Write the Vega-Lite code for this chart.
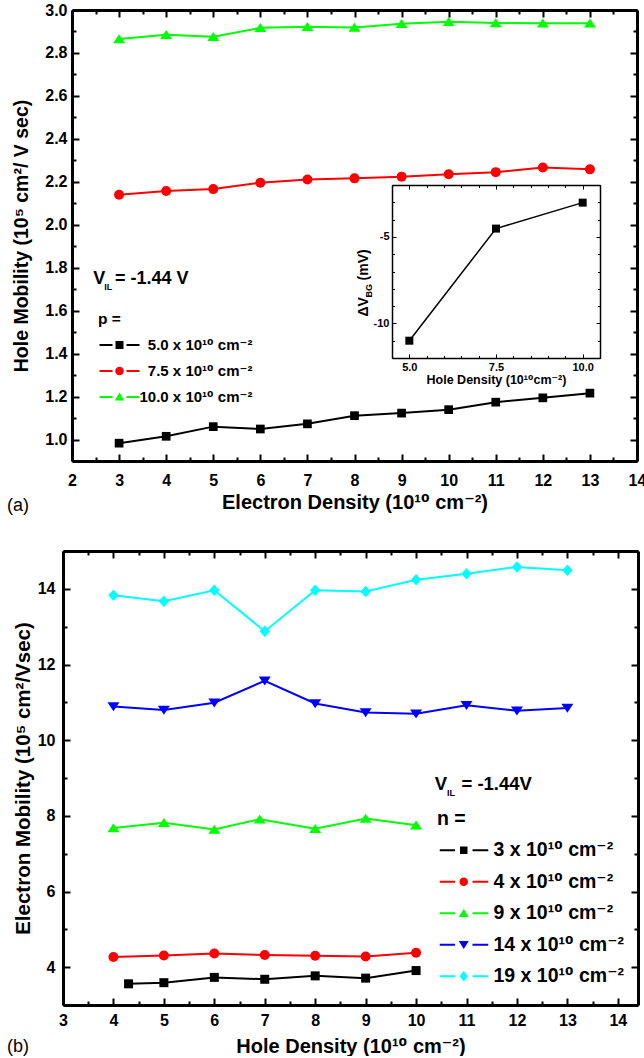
{
 "$schema": "https://vega.github.io/schema/vega-lite/v6.json",
 "background": "white",
 "padding": {"left": 7, "top": 2, "right": 0, "bottom": 0},
 "config": {
  "font": "Liberation Sans, DejaVu Sans",
  "view": {"stroke": null},
  "text": {"font": "Liberation Sans, DejaVu Sans"},
  "axis": {"grid": false, "domainColor": "black", "tickColor": "black", "labelColor": "black", "titleColor": "black", "labelFontWeight": "bold", "titleFontWeight": "bold", "labelOverlap": false, "labelFlush": false, "labelBound": false, "labelFont": "Liberation Sans, DejaVu Sans", "titleFont": "Liberation Sans, DejaVu Sans"},
  "legend": {"labelColor": "black", "titleColor": "black", "labelFontWeight": "bold", "titleFontWeight": "bold", "padding": 0, "symbolStrokeWidth": 0, "symbolOpacity": 1, "labelFont": "Liberation Sans, DejaVu Sans", "titleFont": "Liberation Sans, DejaVu Sans", "labelLimit": 300},
  "title": {"color": "black", "fontWeight": "normal", "font": "Liberation Sans, DejaVu Sans"}
 },
 "datasets": {
  "hole": [
   {"n":3,"mu":0.983,"p":"5.0"},{"n":4,"mu":1.015,"p":"5.0"},{"n":5,"mu":1.060,"p":"5.0"},{"n":6,"mu":1.049,"p":"5.0"},{"n":7,"mu":1.073,"p":"5.0"},{"n":8,"mu":1.111,"p":"5.0"},{"n":9,"mu":1.123,"p":"5.0"},{"n":10,"mu":1.139,"p":"5.0"},{"n":11,"mu":1.174,"p":"5.0"},{"n":12,"mu":1.194,"p":"5.0"},{"n":13,"mu":1.216,"p":"5.0"},
   {"n":3,"mu":2.140,"p":"7.5"},{"n":4,"mu":2.157,"p":"7.5"},{"n":5,"mu":2.166,"p":"7.5"},{"n":6,"mu":2.196,"p":"7.5"},{"n":7,"mu":2.211,"p":"7.5"},{"n":8,"mu":2.216,"p":"7.5"},{"n":9,"mu":2.224,"p":"7.5"},{"n":10,"mu":2.235,"p":"7.5"},{"n":11,"mu":2.245,"p":"7.5"},{"n":12,"mu":2.267,"p":"7.5"},{"n":13,"mu":2.258,"p":"7.5"},
   {"n":3,"mu":2.865,"p":"10.0"},{"n":4,"mu":2.885,"p":"10.0"},{"n":5,"mu":2.875,"p":"10.0"},{"n":6,"mu":2.917,"p":"10.0"},{"n":7,"mu":2.922,"p":"10.0"},{"n":8,"mu":2.919,"p":"10.0"},{"n":9,"mu":2.936,"p":"10.0"},{"n":10,"mu":2.945,"p":"10.0"},{"n":11,"mu":2.940,"p":"10.0"},{"n":12,"mu":2.938,"p":"10.0"},{"n":13,"mu":2.938,"p":"10.0"}
  ],
  "inset": [{"h":5.0,"dv":-11.0},{"h":7.5,"dv":-4.52},{"h":10.0,"dv":-3.02}],
  "elec": [
   {"h":4.3,"mu":3.56,"n":"3"},{"h":5,"mu":3.59,"n":"3"},{"h":6,"mu":3.73,"n":"3"},{"h":7,"mu":3.68,"n":"3"},{"h":8,"mu":3.77,"n":"3"},{"h":9,"mu":3.71,"n":"3"},{"h":10,"mu":3.91,"n":"3"},
   {"h":4,"mu":4.27,"n":"4"},{"h":5,"mu":4.31,"n":"4"},{"h":6,"mu":4.36,"n":"4"},{"h":7,"mu":4.32,"n":"4"},{"h":8,"mu":4.30,"n":"4"},{"h":9,"mu":4.28,"n":"4"},{"h":10,"mu":4.38,"n":"4"},
   {"h":4,"mu":7.68,"n":"9"},{"h":5,"mu":7.82,"n":"9"},{"h":6,"mu":7.64,"n":"9"},{"h":6.9,"mu":7.91,"n":"9"},{"h":8,"mu":7.66,"n":"9"},{"h":9,"mu":7.93,"n":"9"},{"h":10,"mu":7.75,"n":"9"},
   {"h":4,"mu":10.89,"n":"14"},{"h":5,"mu":10.80,"n":"14"},{"h":6,"mu":10.99,"n":"14"},{"h":7,"mu":11.57,"n":"14"},{"h":8,"mu":10.97,"n":"14"},{"h":9,"mu":10.73,"n":"14"},{"h":10,"mu":10.70,"n":"14"},{"h":11,"mu":10.92,"n":"14"},{"h":12,"mu":10.78,"n":"14"},{"h":13,"mu":10.85,"n":"14"},
   {"h":4,"mu":13.83,"n":"19"},{"h":5,"mu":13.67,"n":"19"},{"h":6,"mu":13.96,"n":"19"},{"h":7,"mu":12.88,"n":"19"},{"h":8,"mu":13.96,"n":"19"},{"h":9,"mu":13.93,"n":"19"},{"h":10,"mu":14.24,"n":"19"},{"h":11,"mu":14.40,"n":"19"},{"h":12,"mu":14.58,"n":"19"},{"h":13,"mu":14.49,"n":"19"}
  ]
 },
 "vconcat": [
  {
   "width": 574, "height": 451,
   "title": {"text": "(a)", "orient": "bottom", "anchor": "start", "frame": "group", "dx": -56, "offset": -15, "fontSize": 18, "fontWeight": "normal"},
   "layer": [
    {
     "data": {"name": "hole"},
     "layer": [
      {"transform": [{"filter": "datum.mu < 0"}],
       "mark": {"type": "point", "filled": true, "opacity": 1, "size": 100},
       "encoding": {
        "x": {"field": "n", "type": "quantitative", "scale": {"domain": [2, 14], "range": [9, 574], "nice": false, "zero": false}, "axis": null},
        "y": {"field": "mu", "type": "quantitative", "scale": {"domain": [0.9, 3.0], "nice": false, "zero": false}, "axis": null},
        "color": {"field": "p", "type": "nominal", "scale": {"domain": ["5.0","7.5","10.0"], "range": ["#000000","#ff0000","#00ff00"]},
                  "legend": {"title": "p =", "orient": "none", "legendX": 35, "legendY": 302, "symbolSize": 100, "labelAlign": "right", "labelOffset": 139.4, "labelFontSize": 15, "titleFontSize": 15.5, "rowPadding": 10, "titlePadding": 10, "labelExpr": "datum.label + ' x 10¹⁰ cm⁻²'"}},
        "shape": {"field": "p", "type": "nominal", "scale": {"domain": ["5.0","7.5","10.0"], "range": ["M-1.2,-0.2H1.4V0.2H-1.2Z M2,-0.8H3.6V0.8H2Z M4.2,-0.2H6.8V0.2H4.2Z", "M-1.2,-0.2H1.4V0.2H-1.2Z M1.95,0A0.85,0.85 0 1,0 3.65,0A0.85,0.85 0 1,0 1.95,0Z M4.2,-0.2H6.8V0.2H4.2Z", "M-1.2,-0.2H1.4V0.2H-1.2Z M2.8,-0.9L3.75,0.7H1.85Z M4.2,-0.2H6.8V0.2H4.2Z"]},
                  "legend": {"title": "p =", "orient": "none", "legendX": 35, "legendY": 302, "symbolSize": 100, "labelAlign": "right", "labelOffset": 139.4, "labelFontSize": 15, "titleFontSize": 15.5, "rowPadding": 10, "titlePadding": 10, "labelExpr": "datum.label + ' x 10¹⁰ cm⁻²'"}}}},
      {"mark": {"type": "line", "strokeWidth": 2}, "encoding": {
        "x": {"field": "n", "type": "quantitative",
              "axis": {"orient": "bottom", "values": [2,3,4,5,6,7,8,9,10,11,12,13,14], "format": "d", "tickSize": -7, "tickWidth": 2, "domainWidth": 3, "labelFontSize": 16, "labelPadding": 18, "title": "Electron Density (10¹⁰ cm⁻²)", "titleFontSize": 20, "titlePadding": 4}},
        "y": {"field": "mu", "type": "quantitative",
              "axis": {"orient": "left", "offset": -9, "values": [1.0,1.2,1.4,1.6,1.8,2.0,2.2,2.4,2.6,2.8,3.0], "format": ".1f", "tickSize": -7, "tickWidth": 2, "domainWidth": 3, "labelFontSize": 16, "labelPadding": 12, "title": "Hole Mobility (10⁵ cm²/ V sec)", "titleFontSize": 19.5, "titlePadding": 13}},
        "color": {"field": "p", "type": "nominal"}}},
      {"transform": [{"filter": "datum.p === '5.0'"}],
       "mark": {"type": "point", "shape": "M-0.87,-0.87H0.87V0.87H-0.87Z", "filled": true, "opacity": 1, "size": 100}, "encoding": {
        "x": {"field": "n", "type": "quantitative",
              "axis": {"orient": "top", "values": [2,3,4,5,6,7,8,9,10,11,12,13,14], "labels": false, "tickSize": -7, "tickWidth": 2, "domainWidth": 3, "title": null}},
        "y": {"field": "mu", "type": "quantitative",
              "axis": {"orient": "right", "values": [1.0,1.2,1.4,1.6,1.8,2.0,2.2,2.4,2.6,2.8,3.0], "labels": false, "tickSize": -7, "tickWidth": 2, "domainWidth": 3, "title": null}},
        "color": {"field": "p", "type": "nominal"}}},
      {"transform": [{"filter": "datum.p === '7.5'"}],
       "mark": {"type": "point", "shape": "circle", "filled": true, "opacity": 1, "size": 100}, "encoding": {
        "x": {"field": "n", "type": "quantitative", "axis": null},
        "y": {"field": "mu", "type": "quantitative", "axis": null},
        "color": {"field": "p", "type": "nominal"}}},
      {"transform": [{"filter": "datum.p === '10.0'"}],
       "mark": {"type": "point", "shape": "M0,-0.95L1.2,0.85H-1.2Z", "filled": true, "opacity": 1, "size": 100}, "encoding": {
        "x": {"field": "n", "type": "quantitative", "axis": null},
        "y": {"field": "mu", "type": "quantitative", "axis": null},
        "color": {"field": "p", "type": "nominal"}}},
      {"data": {"values": [{"s": "V"}]}, "mark": {"type": "text", "align": "left", "baseline": "alphabetic", "fontSize": 18, "fontWeight": "bold", "color": "black"},
       "encoding": {
        "x": {"datum": 2.45, "type": "quantitative", "axis": {"orient": "bottom", "values": [2.5,3.5,4.5,5.5,6.5,7.5,8.5,9.5,10.5,11.5,12.5,13.5], "labels": false, "domain": false, "tickSize": -4, "tickWidth": 2, "title": null}},
        "y": {"datum": 1.726, "type": "quantitative", "axis": {"orient": "left", "offset": -9, "values": [0.9,1.1,1.3,1.5,1.7,1.9,2.1,2.3,2.5,2.7,2.9], "labels": false, "domain": false, "tickSize": -4, "tickWidth": 2, "title": null}},
        "text": {"field": "s"}}},
      {"data": {"values": [{"s": "IL"}]}, "mark": {"type": "text", "align": "left", "baseline": "alphabetic", "fontSize": 9, "fontWeight": "bold", "color": "black", "dx": 11, "dy": 6},
       "encoding": {
        "x": {"datum": 2.45, "type": "quantitative", "axis": {"orient": "top", "values": [2.5,3.5,4.5,5.5,6.5,7.5,8.5,9.5,10.5,11.5,12.5,13.5], "labels": false, "domain": false, "tickSize": -4, "tickWidth": 2, "title": null}},
        "y": {"datum": 1.726, "type": "quantitative", "axis": {"orient": "right", "values": [0.9,1.1,1.3,1.5,1.7,1.9,2.1,2.3,2.5,2.7,2.9], "labels": false, "domain": false, "tickSize": -4, "tickWidth": 2, "title": null}},
        "text": {"field": "s"}}},
      {"data": {"values": [{"s": "= -1.44 V"}]}, "mark": {"type": "text", "align": "left", "baseline": "alphabetic", "fontSize": 18, "fontWeight": "bold", "color": "black", "dx": 21.7},
       "encoding": {"x": {"datum": 2.45, "type": "quantitative", "axis": null}, "y": {"datum": 1.726, "type": "quantitative", "axis": null}, "text": {"field": "s"}}}
     ],
     "resolve": {"axis": {"x": "independent", "y": "independent"}}
    },
    {
     "data": {"name": "inset"},
     "layer": [
      {"mark": {"type": "line", "color": "black", "strokeWidth": 1.5}, "encoding": {
        "x": {"field": "h", "type": "quantitative", "scale": {"domain": [4.5, 10.5], "range": [329, 537], "nice": false, "zero": false},
              "axis": {"orient": "bottom", "offset": -103, "values": [5, 7.5, 10], "format": ".1f", "tickSize": -4, "tickWidth": 1, "domainWidth": 1.5, "labelFontSize": 11, "labelPadding": 7, "title": "Hole Density (10¹⁰cm⁻²)", "titleFontSize": 12.5, "titlePadding": 1}},
        "y": {"field": "dv", "type": "quantitative", "scale": {"domain": [-12, -2], "range": [348, 175], "nice": false, "zero": false},
              "axis": {"orient": "left", "offset": -329, "values": [-10, -5], "labelExpr": "'-' + abs(datum.value)", "tickSize": -4, "tickWidth": 1, "domainWidth": 1.5, "labelFontSize": 11, "labelPadding": 7, "title": null}}}},
      {"mark": {"type": "square", "color": "black", "size": 64, "opacity": 1, "filled": true}, "encoding": {
        "x": {"field": "h", "type": "quantitative",
              "axis": {"orient": "top", "offset": -175, "values": [5, 7.5, 10], "labels": false, "tickSize": -4, "tickWidth": 1, "domainWidth": 1.5, "title": null}},
        "y": {"field": "dv", "type": "quantitative",
              "axis": {"orient": "right", "offset": -37, "values": [-10, -5], "labels": false, "tickSize": -4, "tickWidth": 1, "domainWidth": 1.5, "title": null}}}},
      {"data": {"values": [{"s": "ΔV"}]}, "mark": {"type": "text", "angle": 270, "align": "left", "baseline": "middle", "fontSize": 14, "fontWeight": "bold", "color": "black"},
       "encoding": {
        "x": {"datum": 3.7, "type": "quantitative", "axis": {"orient": "bottom", "offset": -103, "values": [4.5,5.5,6,6.5,7,8,8.5,9,9.5,10.5], "labels": false, "domain": false, "tickSize": -2.5, "tickWidth": 1, "title": null}},
        "y": {"datum": -9.6, "type": "quantitative", "axis": {"orient": "left", "offset": -329, "values": [-12,-11,-9,-8,-7,-6,-4,-3,-2], "labels": false, "domain": false, "tickSize": -2.5, "tickWidth": 1, "title": null}},
        "text": {"field": "s"}}},
      {"data": {"values": [{"s": "BG"}]}, "mark": {"type": "text", "angle": 270, "align": "left", "baseline": "middle", "fontSize": 9, "fontWeight": "bold", "color": "black", "dx": 19, "dy": 4.5},
       "encoding": {
        "x": {"datum": 3.7, "type": "quantitative", "axis": {"orient": "top", "offset": -175, "values": [4.5,5.5,6,6.5,7,8,8.5,9,9.5,10.5], "labels": false, "domain": false, "tickSize": -2.5, "tickWidth": 1, "title": null}},
        "y": {"datum": -9.6, "type": "quantitative", "axis": {"orient": "right", "offset": -37, "values": [-12,-11,-9,-8,-7,-6,-4,-3,-2], "labels": false, "domain": false, "tickSize": -2.5, "tickWidth": 1, "title": null}},
        "text": {"field": "s"}}},
      {"data": {"values": [{"s": "(mV)"}]}, "mark": {"type": "text", "angle": 270, "align": "left", "baseline": "middle", "fontSize": 14, "fontWeight": "bold", "color": "black", "dx": 36},
       "encoding": {"x": {"datum": 3.7, "type": "quantitative", "axis": null}, "y": {"datum": -9.6, "type": "quantitative", "axis": null}, "text": {"field": "s"}}}
     ],
     "resolve": {"axis": {"x": "independent", "y": "independent"}}
    }
   ],
   "resolve": {"scale": {"x": "independent", "y": "independent"}, "axis": {"x": "independent", "y": "independent"}}
  },
  {
   "width": 575, "height": 454,
   "title": {"text": "(b)", "orient": "bottom", "anchor": "start", "frame": "group", "dx": -56, "offset": -18, "fontSize": 18, "fontWeight": "normal"},
   "data": {"name": "elec"},
   "layer": [
    {"transform": [{"filter": "datum.mu < 0"}],
     "mark": {"type": "point", "filled": true, "opacity": 1, "size": 100},
     "encoding": {
      "x": {"field": "h", "type": "quantitative", "scale": {"domain": [3, 14.4], "nice": false, "zero": false}, "axis": null},
      "y": {"field": "mu", "type": "quantitative", "scale": {"domain": [3, 15], "nice": false, "zero": false}, "axis": null},
      "color": {"field": "n", "type": "nominal", "scale": {"domain": ["3","4","9","14","19"], "range": ["#000000","#ff0000","#00ff00","#0000ff","#00ffff"]},
                "legend": {"title": "n =", "orient": "none", "legendX": 374, "legendY": 259, "symbolSize": 100, "labelOffset": 37, "labelFontSize": 19.5, "titleFontSize": 19.5, "rowPadding": 10.5, "titlePadding": 11, "labelExpr": "datum.label + ' x 10¹⁰ cm⁻²'"}},
      "shape": {"field": "n", "type": "nominal", "scale": {"domain": ["3","4","9","14","19"], "range": ["M-1.4,-0.2H1.65V0.2H-1.4Z M2.65,-0.75H4.15V0.75H2.65Z M5.15,-0.2H8.3V0.2H5.15Z", "M-1.4,-0.2H1.65V0.2H-1.4Z M2.55,0A0.85,0.85 0 1,0 4.25,0A0.85,0.85 0 1,0 2.55,0Z M5.15,-0.2H8.3V0.2H5.15Z", "M-1.4,-0.2H1.65V0.2H-1.4Z M3.4,-0.85L4.4,0.75H2.4Z M5.15,-0.2H8.3V0.2H5.15Z", "M-1.4,-0.2H1.65V0.2H-1.4Z M3.4,0.85L4.4,-0.75H2.4Z M5.15,-0.2H8.3V0.2H5.15Z", "M-1.4,-0.2H1.65V0.2H-1.4Z M3.4,-1.05L4.25,0L3.4,1.05L2.55,0Z M5.15,-0.2H8.3V0.2H5.15Z"]},
                "legend": {"title": "n =", "orient": "none", "legendX": 374, "legendY": 259, "symbolSize": 100, "labelOffset": 37, "labelFontSize": 19.5, "titleFontSize": 19.5, "rowPadding": 10.5, "titlePadding": 11, "labelExpr": "datum.label + ' x 10¹⁰ cm⁻²'"}}}},
    {"mark": {"type": "line", "strokeWidth": 2}, "encoding": {
      "x": {"field": "h", "type": "quantitative",
            "axis": {"orient": "bottom", "values": [3,4,5,6,7,8,9,10,11,12,13,14], "format": "d", "tickSize": -7, "tickWidth": 2, "domainWidth": 3, "labelFontSize": 16, "labelPadding": 14, "title": "Hole Density (10¹⁰ cm⁻²)", "titleFontSize": 20, "titlePadding": 8}},
      "y": {"field": "mu", "type": "quantitative",
            "axis": {"orient": "left", "values": [4,6,8,10,12,14], "format": "d", "tickSize": -7, "tickWidth": 2, "domainWidth": 3, "labelFontSize": 16, "labelPadding": 15, "title": "Electron Mobility (10⁵ cm²/Vsec)", "titleFontSize": 20.5, "titlePadding": 4}},
      "color": {"field": "n", "type": "nominal"}}},
    {"transform": [{"filter": "datum.n === '3'"}],
     "mark": {"type": "point", "shape": "M-0.9,-0.9H0.9V0.9H-0.9Z", "filled": true, "opacity": 1, "size": 100}, "encoding": {
      "x": {"field": "h", "type": "quantitative",
            "axis": {"orient": "top", "values": [3,4,5,6,7,8,9,10,11,12,13,14], "labels": false, "tickSize": -7, "tickWidth": 2, "domainWidth": 3, "title": null}},
      "y": {"field": "mu", "type": "quantitative",
            "axis": {"orient": "right", "values": [4,6,8,10,12,14], "labels": false, "tickSize": -7, "tickWidth": 2, "domainWidth": 3, "title": null}},
      "color": {"field": "n", "type": "nominal"}}},
    {"transform": [{"filter": "datum.n === '4'"}],
     "mark": {"type": "point", "shape": "circle", "filled": true, "opacity": 1, "size": 100}, "encoding": {
      "x": {"field": "h", "type": "quantitative", "axis": null}, "y": {"field": "mu", "type": "quantitative", "axis": null}, "color": {"field": "n", "type": "nominal"}}},
    {"transform": [{"filter": "datum.n === '9'"}],
     "mark": {"type": "point", "shape": "M0,-0.95L1.2,0.85H-1.2Z", "filled": true, "opacity": 1, "size": 100}, "encoding": {
      "x": {"field": "h", "type": "quantitative", "axis": null}, "y": {"field": "mu", "type": "quantitative", "axis": null}, "color": {"field": "n", "type": "nominal"}}},
    {"transform": [{"filter": "datum.n === '14'"}],
     "mark": {"type": "point", "shape": "M0,0.95L1.2,-0.85H-1.2Z", "filled": true, "opacity": 1, "size": 100}, "encoding": {
      "x": {"field": "h", "type": "quantitative", "axis": null}, "y": {"field": "mu", "type": "quantitative", "axis": null}, "color": {"field": "n", "type": "nominal"}}},
    {"transform": [{"filter": "datum.n === '19'"}],
     "mark": {"type": "point", "shape": "M0,-1.15L1.05,0L0,1.15L-1.05,0Z", "filled": true, "opacity": 1, "size": 100}, "encoding": {
      "x": {"field": "h", "type": "quantitative", "axis": null}, "y": {"field": "mu", "type": "quantitative", "axis": null}, "color": {"field": "n", "type": "nominal"}}},
    {"data": {"values": [{"s": "V"}]}, "mark": {"type": "text", "align": "left", "baseline": "alphabetic", "fontSize": 18.5, "fontWeight": "bold", "color": "black"},
     "encoding": {
      "x": {"datum": 10.37, "type": "quantitative", "axis": {"orient": "bottom", "values": [3.5,4.5,5.5,6.5,7.5,8.5,9.5,10.5,11.5,12.5,13.5], "labels": false, "domain": false, "tickSize": -4, "tickWidth": 2, "title": null}},
      "y": {"datum": 8.67, "type": "quantitative", "axis": {"orient": "left", "values": [3,5,7,9,11,13,15], "labels": false, "domain": false, "tickSize": -4, "tickWidth": 2, "title": null}},
      "text": {"field": "s"}}},
    {"data": {"values": [{"s": "IL"}]}, "mark": {"type": "text", "align": "left", "baseline": "alphabetic", "fontSize": 9, "fontWeight": "bold", "color": "black", "dx": 12.3, "dy": 6},
     "encoding": {
      "x": {"datum": 10.37, "type": "quantitative", "axis": {"orient": "top", "values": [3.5,4.5,5.5,6.5,7.5,8.5,9.5,10.5,11.5,12.5,13.5], "labels": false, "domain": false, "tickSize": -4, "tickWidth": 2, "title": null}},
      "y": {"datum": 8.67, "type": "quantitative", "axis": {"orient": "right", "values": [3,5,7,9,11,13,15], "labels": false, "domain": false, "tickSize": -4, "tickWidth": 2, "title": null}},
      "text": {"field": "s"}}},
    {"data": {"values": [{"s": "= -1.44V"}]}, "mark": {"type": "text", "align": "left", "baseline": "alphabetic", "fontSize": 18.5, "fontWeight": "bold", "color": "black", "dx": 26.7},
     "encoding": {"x": {"datum": 10.37, "type": "quantitative", "axis": null}, "y": {"datum": 8.67, "type": "quantitative", "axis": null}, "text": {"field": "s"}}}
   ],
   "resolve": {"axis": {"x": "independent", "y": "independent"}}
  }
 ],
 "spacing": 35,
 "resolve": {"scale": {"color": "independent", "shape": "independent"}}
}
